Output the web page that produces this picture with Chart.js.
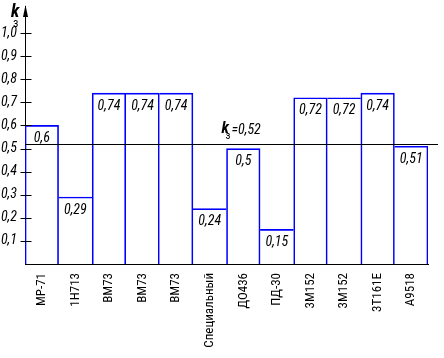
<!DOCTYPE html>
<html><head><meta charset="utf-8">
<script src="https://cdn.jsdelivr.net/npm/chart.js@4/dist/chart.umd.min.js"></script>
<style>html,body{margin:0;padding:0;background:#fff}#wrap{width:444px;height:358px;position:relative}</style>
</head><body><div id="wrap"><canvas id="c" width="444" height="358"></canvas></div>
<script>
const categories = ["МР-71","1Н713","ВМ73","ВМ73","ВМ73","Специальный","ДО436","ПД-30","3М152","3М152","3Т161Е","А9518"];
const values = [0.6,0.29,0.74,0.74,0.74,0.24,0.5,0.15,0.72,0.72,0.74,0.51];
const valueLabels = ["0,6","0,29","0,74","0,74","0,74","0,24","0,5","0,15","0,72","0,72","0,74","0,51"];
const averageValue = 0.52;
const averageLabel = "=0,52";
const yTickValues = [0.1,0.2,0.3,0.4,0.5,0.6,0.7,0.8,0.9,1.0];
const yMax = 1.1;

const FONT = "'Roboto Condensed','Liberation Sans',Arial,sans-serif";

const decor = {
  id: 'decor',
  afterDraw(chart) {
    const ctx = chart.ctx;
    const y = chart.scales.y, x = chart.scales.x;
    const left = chart.chartArea.left, right = chart.chartArea.right;
    ctx.save();
    ctx.strokeStyle = '#000';
    ctx.lineWidth = 1;
    const ax = Math.round(left) + 0.5;
    // tick marks crossing the axis
    yTickValues.forEach(v => {
      const py = Math.round(y.getPixelForValue(v)) + 0.5;
      ctx.beginPath(); ctx.moveTo(ax - 5, py); ctx.lineTo(ax + 6, py); ctx.stroke();
    });
    // axis arrow
    ctx.beginPath(); ctx.moveTo(ax, y.getPixelForValue(yMax)); ctx.lineTo(ax, 6); ctx.stroke();
    ctx.fillStyle = '#000';
    ctx.beginPath(); ctx.moveTo(ax, 5); ctx.lineTo(ax - 2.5, 17); ctx.lineTo(ax + 2.5, 17); ctx.closePath(); ctx.fill();
    // axis title k_з
    ctx.font = "italic bold 18px " + FONT;
    ctx.textBaseline = 'alphabetic'; ctx.textAlign = 'left';
    ctx.fillText('k', 11, 17);
    ctx.font = "12px " + FONT;
    ctx.fillText('з', 13, 27);
    // average line
    const ay = Math.round(y.getPixelForValue(averageValue)) + 0.5;
    ctx.beginPath(); ctx.moveTo(left, ay); ctx.lineTo(right + 10, ay); ctx.stroke();
    // average label
    const boundary = (x.getPixelForValue(5) + x.getPixelForValue(6)) / 2;
    const lx = boundary - 5;
    ctx.font = "italic bold 16px " + FONT;
    ctx.fillText('k', lx, ay - 12);
    ctx.font = "11px " + FONT;
    ctx.fillText('з', lx + 4, ay - 6);
    ctx.font = "italic 14px " + FONT;
    ctx.fillText(averageLabel, lx + 10, ay - 11);
    // value labels
    const meta = chart.getDatasetMeta(0);
    ctx.font = "italic 14px " + FONT;
    ctx.textAlign = 'center'; ctx.textBaseline = 'middle';
    meta.data.forEach((bar, i) => {
      ctx.fillText(valueLabels[i], bar.x, bar.y + 13);
    });
    ctx.restore();
  }
};

const n = values.length;
new Chart(document.getElementById('c'), {
  type: 'bar',
  data: {
    labels: categories,
    datasets: [{
      data: values,
      backgroundColor: 'rgba(0,0,0,0)',
      borderColor: '#0000ff',
      borderWidth: (c) => {
        const i = c.dataIndex;
        const l = (i === 0 || values[i] > values[i - 1]) ? 1 : 0;
        const r = (i === n - 1 || values[i] >= values[i + 1]) ? 1 : 0;
        return { top: 1, left: l, right: r, bottom: 0 };
      },
      borderSkipped: false,
      categoryPercentage: 1,
      barPercentage: 1
    }]
  },
  options: {
    responsive: false,
    devicePixelRatio: 1,
    animation: false,
    layout: { padding: { top: 10, right: 16, left: 0, bottom: 0 } },
    plugins: { legend: { display: false }, tooltip: { enabled: false } },
    scales: {
      x: {
        grid: { display: false },
        border: { display: true, color: '#000', width: 1 },
        ticks: { color: '#000', font: { family: FONT, size: 13 }, minRotation: 90, maxRotation: 90, padding: 1, autoSkip: false },
        afterFit(s) { s.height = 94; }
      },
      y: {
        min: 0, max: yMax,
        grid: { display: false },
        border: { display: true, color: '#000', width: 1 },
        afterBuildTicks(s) { s.ticks = yTickValues.map(v => ({ value: v })); },
        ticks: { color: '#000', font: { family: FONT, size: 14, style: 'italic' }, padding: 0,
          callback: v => Number(v).toFixed(1).replace('.', ',') },
        afterFit(s) { s.width = 25; }
      }
    }
  },
  plugins: [decor]
});
</script>
</body></html>
